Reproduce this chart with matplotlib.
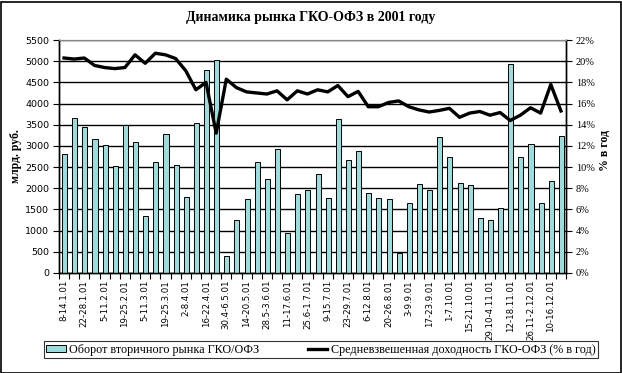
import matplotlib
matplotlib.use("Agg")
import matplotlib.pyplot as plt
from matplotlib.ticker import FuncFormatter
import numpy as np

weeks = ["8-14.1.01", "15-21.1.01", "22-28.1.01", "29.1-4.2.01", "5-11.2.01", "12-18.2.01",
         "19-25.2.01", "26.2-4.3.01", "5-11.3.01", "12-18.3.01", "19-25.3.01", "26.3-1.4.01",
         "2-8.4.01", "9-15.4.01", "16-22.4.01", "23-29.4.01", "30.4-6.5.01", "7-13.5.01",
         "14-20.5.01", "21-27.5.01", "28.5-3.6.01", "4-10.6.01", "11-17.6.01", "18-24.6.01",
         "25.6-1.7.01", "2-8.7.01", "9-15.7.01", "16-22.7.01", "23-29.7.01", "30.7-5.8.01",
         "6-12.8.01", "13-19.8.01", "20-26.8.01", "27.8-2.9.01", "3-9.9.01", "10-16.9.01",
         "17-23.9.01", "24-30.9.01", "1-7.10.01", "8-14.10.01", "15-21.10.01", "22-28.10.01",
         "29.10-4.11.01", "5-11.11.01", "12-18.11.01", "19-25.11.01", "26.11-2.12.01",
         "3-9.12.01", "10-16.12.01", "17-23.12.01"]

turnover = [2800, 3650, 3450, 3170, 3030, 2520, 3500, 3100, 1340, 2610,
            3290, 2540, 1790, 3530, 4800, 5030, 400, 1250, 1740, 2610,
            2230, 2920, 940, 1860, 1970, 2335, 1765, 3640, 2660, 2870,
            1880, 1765, 1750, 470, 1650, 2090, 1955, 3220, 2750, 2115,
            2070, 1290, 1250, 1530, 4940, 2750, 3055, 1645, 2165, 3245]

yield_pct = [20.3, 20.2, 20.3, 19.6, 19.4, 19.3, 19.4, 20.6, 19.8, 20.75,
             20.6, 20.25, 19.1, 17.3, 18.0, 13.2, 18.3, 17.5, 17.1, 17.0,
             16.9, 17.2, 16.35, 17.2, 16.9, 17.3, 17.1, 17.7, 16.65, 17.15,
             15.7, 15.7, 16.1, 16.25, 15.7, 15.4, 15.2, 15.35, 15.55, 14.7,
             15.1, 15.25, 14.9, 15.15, 14.4, 14.9, 15.6, 15.1, 17.8, 15.3]

title = "Динамика рынка ГКО-ОФЗ в 2001 году"
left_label = "млрд. руб."
right_label = "% в год"
bar_name = "Оборот вторичного рынка ГКО/ОФЗ"
line_name = "Средневзвешенная доходность ГКО-ОФЗ (% в год)"

W, H = 622, 373
fig = plt.figure(figsize=(W / 100, H / 100), dpi=100)
fig.patch.set_facecolor("white")
fig.add_artist(plt.Rectangle((0.5 / W, 0.5 / H), 1 - 2 / W, 1 - 2 / H, transform=fig.transFigure,
                             fill=False, edgecolor="black", linewidth=1.2))

x0, x1, yt, yb = 59, 566, 40, 273
ax = fig.add_axes([x0 / W, 1 - yb / H, (x1 - x0) / W, (yb - yt) / H])
ax2 = ax.twinx()

n = len(weeks)
x = np.arange(n)
ax.bar(x + 0.05, turnover, width=0.5, color="#99DDDD", edgecolor="black", linewidth=0.7, zorder=3,
       label=bar_name)
ax.set_xlim(-0.5, n - 0.5)
ax.set_ylim(0, 5500)
ax.set_yticks(np.arange(0, 5501, 500))
ax.yaxis.grid(True, color="black", linewidth=1.0, zorder=0)
ax.set_axisbelow(True)

ax2.plot(x, yield_pct, color="black", linewidth=2.4, zorder=4, label=line_name)
ax2.set_ylim(0, 22)
ax2.set_yticks(np.arange(0, 23, 2))
ax2.yaxis.set_major_formatter(FuncFormatter(lambda v, p: f"{int(round(v))}%"))

ax.set_xticks(x[::2])
ax.set_xticklabels(weeks[::2], rotation=90, fontsize=6.2, family="DejaVu Sans")
ax.set_xticks(np.arange(-0.5, n, 1), minor=True)
ax.tick_params(axis="x", which="major", length=0, pad=5)
ax.tick_params(axis="x", which="minor", length=4, direction="out", width=0.8)
ax.tick_params(axis="y", labelsize=6.8, length=4, width=0.8, pad=3)
for lab in ax.get_yticklabels():
    lab.set_family("DejaVu Sans")
ax2.tick_params(axis="y", labelsize=7.5, length=4, width=0.8, pad=3)
for lab in ax2.get_yticklabels():
    lab.set_family("Liberation Serif")

for a in (ax, ax2):
    a.spines["top"].set_color("#888888")
    a.spines["left"].set_linewidth(1.0)
    a.spines["right"].set_linewidth(1.0)
    a.spines["bottom"].set_linewidth(1.0)

fig.text(311 / W, 1 - 17 / H, title, ha="center", va="center", fontsize=10, fontweight="bold",
         family="Liberation Serif")
fig.text(16 / W, 1 - 156 / H, left_label, ha="center", va="center", rotation=90, fontsize=8.5,
         fontweight="bold", family="Liberation Serif")
fig.text(605 / W, 1 - 150 / H, right_label, ha="center", va="center", rotation=90, fontsize=8.5,
         fontweight="bold", family="Liberation Serif")

h1, l1 = ax.get_legend_handles_labels()
h2, l2 = ax2.get_legend_handles_labels()
leg = fig.legend(h1 + h2, l1 + l2, loc="center", bbox_to_anchor=(321 / W, 1 - 349.5 / H), ncol=2,
                 frameon=True, fancybox=False, edgecolor="black",
                 prop={"family": "Liberation Serif", "size": 8.7}, handlelength=1.6,
                 handleheight=0.5, columnspacing=4.0, borderpad=0.2, handletextpad=0.3)
leg.get_frame().set_linewidth(0.8)

fig.savefig("out.png", dpi=100, facecolor="white")
